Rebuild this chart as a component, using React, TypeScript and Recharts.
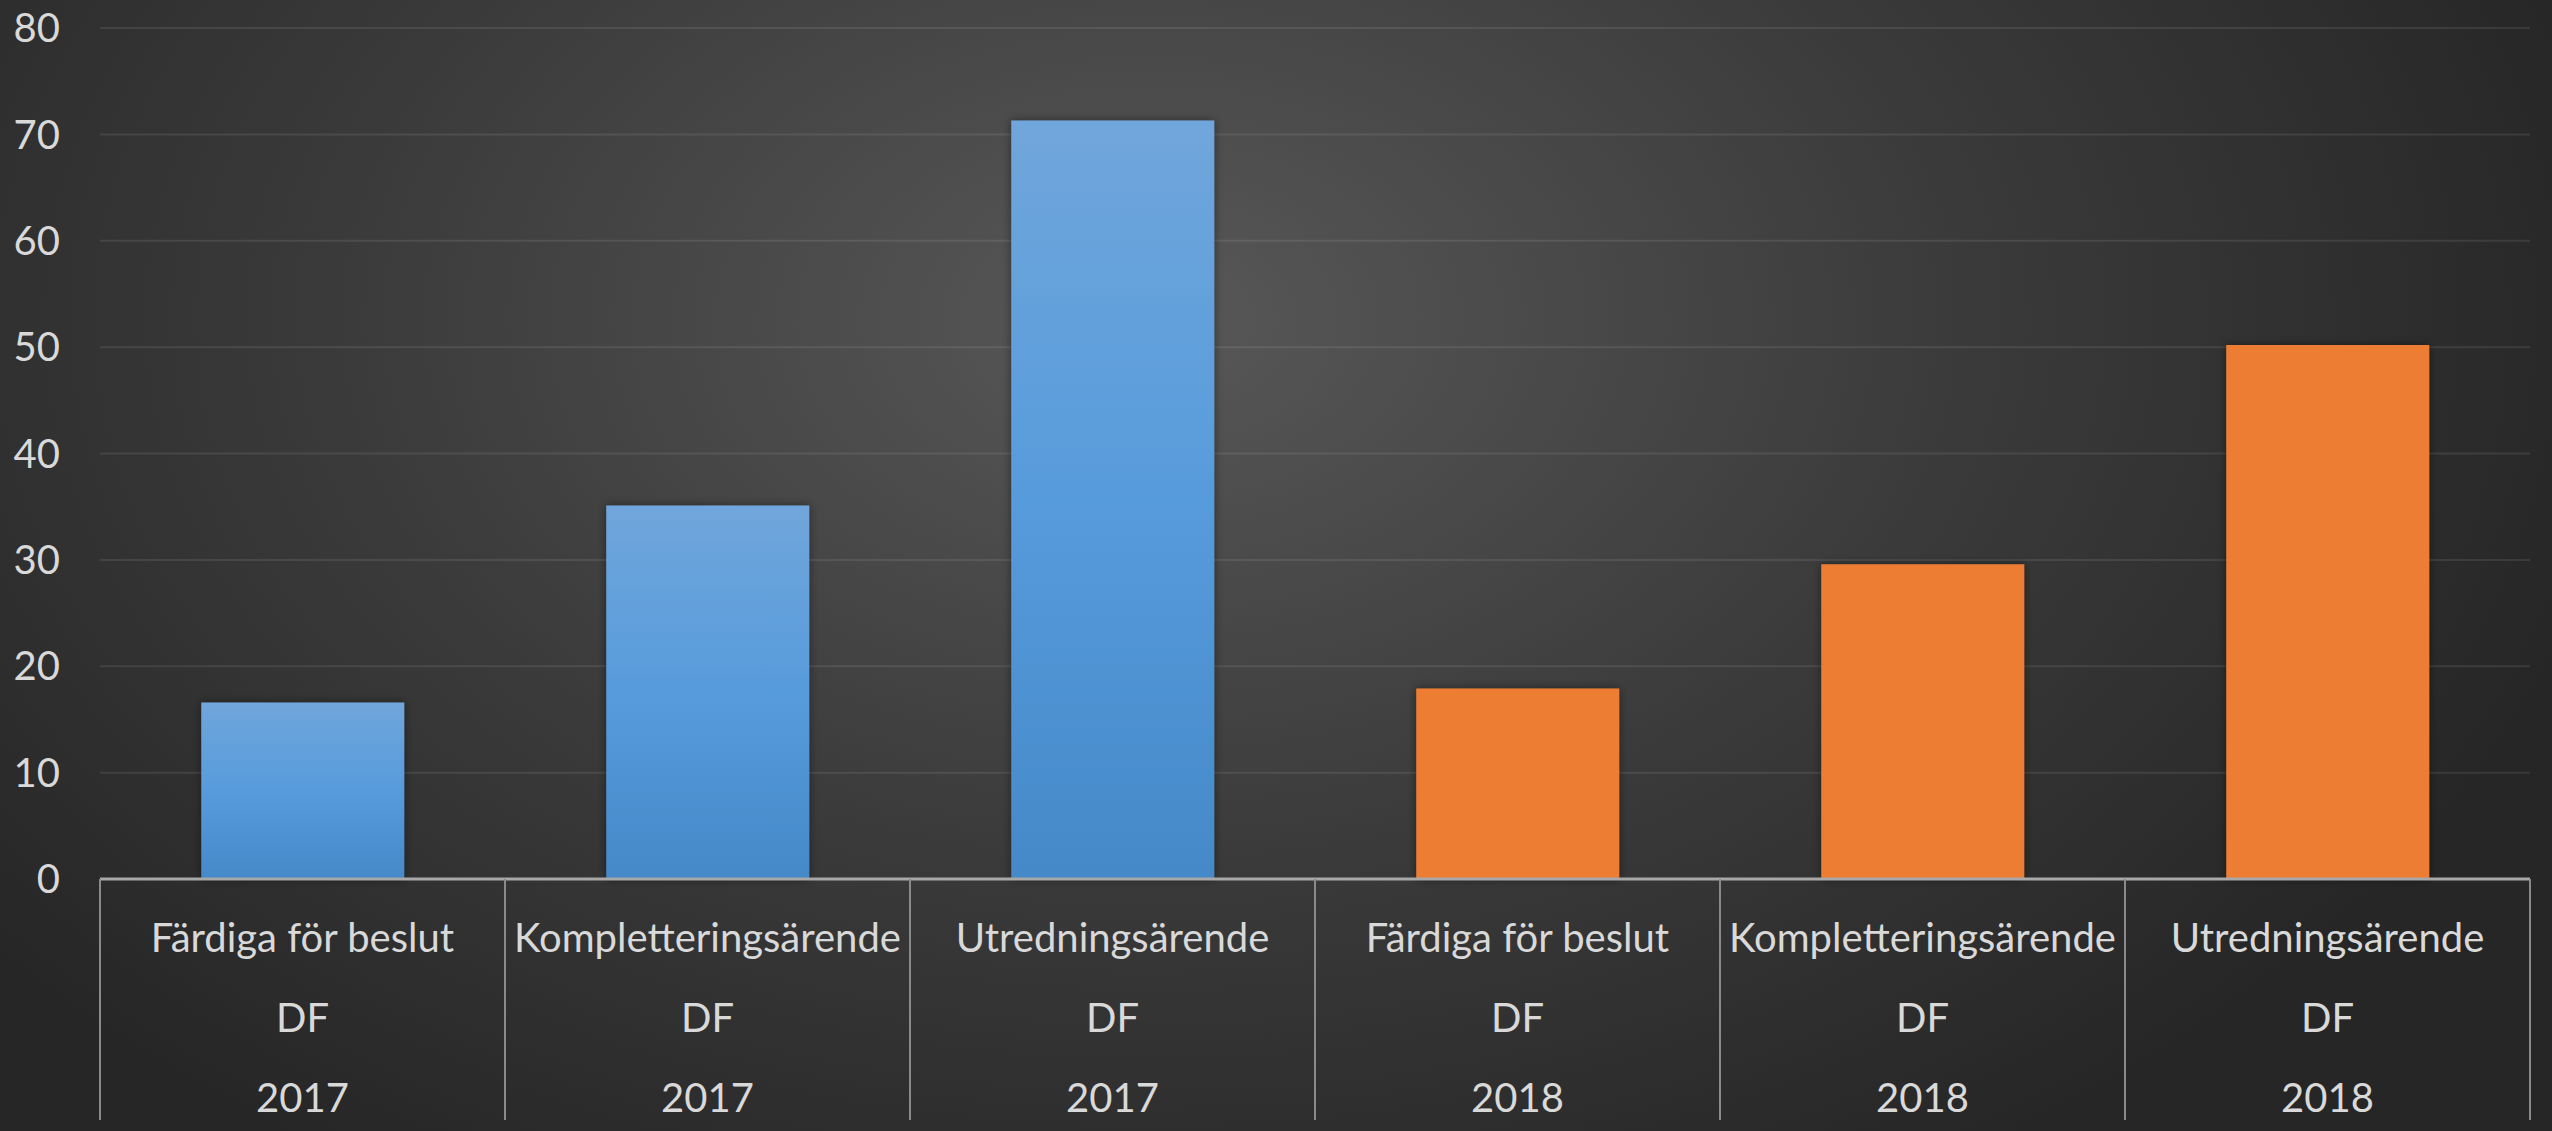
import React from "react";
import { Bar, BarChart, CartesianGrid, Cell, XAxis, YAxis } from "recharts";

const categories = [
  "Färdiga för beslut",
  "Kompletteringsärende",
  "Utredningsärende",
  "Färdiga för beslut",
  "Kompletteringsärende",
  "Utredningsärende",
];
const groups = ["DF", "DF", "DF", "DF", "DF", "DF"];
const years = ["2017", "2017", "2017", "2018", "2018", "2018"];
const values = [16.6, 35.1, 71.3, 17.9, 29.6, 50.2];
const yTicks = [0, 10, 20, 30, 40, 50, 60, 70, 80];

const data = categories.map((name, i) => ({
  name,
  group: groups[i],
  year: years[i],
  value: values[i],
}));

const textColor = "#d9d9d9";
const fontFamily = "Lato, 'Open Sans', sans-serif";

function CategoryTick(props: any) {
  const { x, y, payload, index, width, visibleTicksCount } = props;
  const idx = payload.index ?? index;
  const row = data[idx];
  const half = width / (visibleTicksCount || data.length) / 2;
  const isLast = idx === data.length - 1;
  return (
    <g>
      <line x1={x - half} y1={y - 8} x2={x - half} y2={y + 233} stroke="#8a8a8a" strokeWidth={2} />
      {isLast && (
        <line x1={x + half} y1={y - 8} x2={x + half} y2={y + 233} stroke="#8a8a8a" strokeWidth={2} />
      )}
      <text x={x} y={y + 50} textAnchor="middle" dominantBaseline="central" fill={textColor} fontSize={40} fontFamily={fontFamily}>
        {row.name}
      </text>
      <text x={x} y={y + 130} textAnchor="middle" dominantBaseline="central" fill={textColor} fontSize={40} fontFamily={fontFamily}>
        {row.group}
      </text>
      <text x={x} y={y + 210} textAnchor="middle" dominantBaseline="central" fill={textColor} fontSize={40} fontFamily={fontFamily}>
        {row.year}
      </text>
    </g>
  );
}

export default function App() {
  return (
    <div
      style={{
        width: 2552,
        height: 1131,
        background:
          "radial-gradient(ellipse 1500px 1000px at 1150px 320px, #585858 0%, #3a3a3a 55%, #262626 100%)",
      }}
    >
      <style>{`body{margin:0}`}</style>
      <BarChart
        width={2552}
        height={1131}
        data={data}
        margin={{ top: 28, right: 22, left: 0, bottom: 0 }}
        barCategoryGap="25%"
      >
        <defs>
          <linearGradient id="blueFill" x1="0" y1="0" x2="0" y2="1">
            <stop offset="0%" stopColor="#70a6db" />
            <stop offset="50%" stopColor="#579bdc" />
            <stop offset="100%" stopColor="#4589c8" />
          </linearGradient>
          <filter id="barShadow" x="-10%" y="-10%" width="120%" height="120%">
            <feDropShadow dx="0" dy="0" stdDeviation="5" floodColor="#000" floodOpacity="0.45" />
          </filter>
        </defs>
        <CartesianGrid vertical={false} stroke="rgba(255,255,255,0.09)" strokeWidth={2} />
        <XAxis
          dataKey="name"
          interval={0}
          height={252}
          tickLine={false}
          axisLine={{ stroke: "#a8a8a8", strokeWidth: 3 }}
          tick={<CategoryTick />}
        />
        <YAxis
          domain={[0, 80]}
          ticks={yTicks}
          width={100}
          axisLine={false}
          tickLine={false}
          tickSize={0}
          tickMargin={40}
          tick={{ fill: textColor, fontSize: 40, fontFamily }}
        />
        <Bar dataKey="value" isAnimationActive={false} filter="url(#barShadow)">
          {data.map((d, i) => (
            <Cell key={i} fill={d.year === "2017" ? "url(#blueFill)" : "#ed7d31"} />
          ))}
        </Bar>
      </BarChart>
    </div>
  );
}
